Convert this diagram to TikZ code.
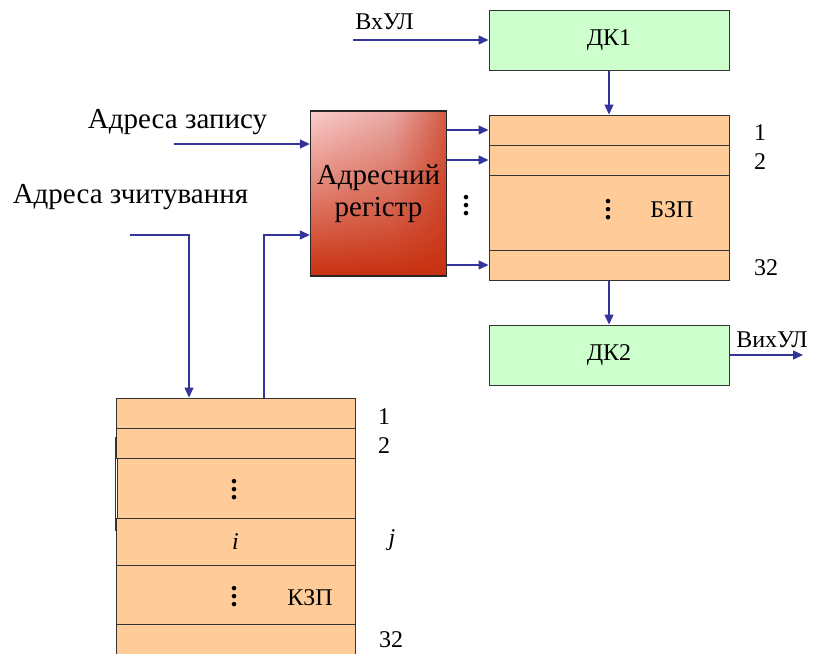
\documentclass[tikz,border=0pt]{standalone}
\usepackage{fontspec}
\setmainfont{Liberation Serif}
\usepackage{tikz}
\usepackage{xcolor}
\usetikzlibrary{arrows.meta, positioning, calc, fadings}

\definecolor{cellfill}{HTML}{FFCC99}
\definecolor{dcfill}{HTML}{CCFFCC}
\definecolor{wireblue}{HTML}{333399}
\definecolor{regpink}{HTML}{FCCFCF}
\definecolor{regmid}{HTML}{E8A8A4}
\definecolor{regred}{HTML}{C8300F}
\pgfdeclarehorizontalshading{regshade}{100bp}{color(0bp)=(regpink); color(24bp)=(regpink); color(55bp)=(regmid); color(86bp)=(regred); color(100bp)=(regred)}
\tikzfading[name=regfade, top color=transparent!100, middle color=transparent!100, bottom color=transparent!0]

\begin{document}
\begin{tikzpicture}[x=0.5pt, y=-0.5pt,
    cell/.style={draw=black!80, line width=0.5pt, fill=cellfill, minimum width=120pt, inner sep=0pt, font=\fontsize{12}{14}\selectfont},
    deccell/.style={draw=black!80, line width=0.5pt, fill=dcfill, minimum width=120pt, minimum height=30pt, font=\fontsize{12}{14}\selectfont},
    regbox/.style={shading=regshade, postaction={fill=regred, path fading=regfade}, postaction={draw=black!85, line width=0.6pt}, minimum width=67.5pt, minimum height=82.5pt, align=center, font=\fontsize{14.5}{16}\selectfont},
    wire/.style={draw=wireblue, line width=0.65pt, -{Triangle[length=5pt,width=4.5pt]}},
    lbl/.style={font=\fontsize{14.5}{16}\selectfont, inner sep=0pt},
    num/.style={font=\fontsize{12}{14}\selectfont, inner sep=0pt},
    vdotsmark/.style={font=\bfseries\fontsize{14}{16}\selectfont, inner sep=0pt}]
    \useasboundingbox (0,0) rectangle (813,653);

    % =========================================================
    % DECODERS AND DATA BUFFER (BZP)
    % =========================================================
    \node[deccell] (dk1) at (609,40) {ДК1};
    \node[cell, minimum height=15pt] (bzp1) at (609,130) {};
    \node[cell, minimum height=15pt] (bzp2) at (609,160) {};
    \node[cell, minimum height=37.5pt] (bzpm) at (609,212.5) {};
    \node[cell, minimum height=15pt] (bzp32) at (609,265) {};
    \node[vdotsmark] (bzpdots) at (608,204) {\vdots};
    \node[num] (bzpname) at (672,210) {БЗП};
    \node[deccell] (dk2) at (609,355) {ДК2};

    \node[num] (bn1) at (760,133) {1};
    \node[num] (bn2) at (760,162) {2};
    \node[num] (bn32) at (766,268) {32};

    % =========================================================
    % ADDRESS REGISTER
    % =========================================================
    \node[regbox] (reg) at (378.5,193.5) {Адресний\\регістр};
    \node[vdotsmark] (regdots) at (466,200) {\vdots};

    % =========================================================
    % CONTROL MEMORY (KZP)
    % =========================================================
    \node[cell, minimum width=119.5pt, minimum height=15pt] (kzp1) at (235.5,413) {};
    \node[cell, minimum width=119.5pt, minimum height=15pt] (kzp2) at (235.5,443) {};
    \node[cell, minimum width=119pt, minimum height=30pt] (kzp3) at (236,488) {};
    \node[cell, minimum width=119.5pt, minimum height=23.5pt] (kzpi) at (235.5,541.5) {\itshape i};
    \node[cell, minimum width=119.5pt, minimum height=29.5pt] (kzp5) at (235.5,594.5) {};
    \node[cell, minimum width=119.5pt, minimum height=29.5pt] (kzp32) at (235.5,653.5) {};
    \draw[black!80, line width=0.5pt] (115,437) -- (115,531);
    \node[vdotsmark] (kzpdots1) at (234,484) {\vdots};
    \node[vdotsmark] (kzpdots2) at (234,591) {\vdots};
    \node[num] (kzpname) at (310,598) {КЗП};

    \node[num] (kn1) at (384,417) {1};
    \node[num] (kn2) at (384,446) {2};
    \node[num] (knj) at (392,540) {\itshape j};
    \node[num] (kn32) at (391,640) {32};

    % =========================================================
    % SIGNAL LABELS AND CONNECTORS
    % =========================================================
    \node[num] (vxullbl) at (384.5,22) {ВхУЛ};
    \node[num] (vyxullbl) at (772,340) {ВихУЛ};
    \node[lbl] (wrlbl) at (177.5,122) {Адреса запису};
    \node[lbl] (rdlbl) at (130.5,197) {Адреса зчитування};

    \coordinate (vxul) at (353,40);
    \coordinate (vyxul) at (803,355);
    \coordinate (wrin) at (174,144);
    \coordinate (rdin) at (130,235);
    \coordinate (rdtap) at (189,235);
    \coordinate (rdret) at (264,235);

    \draw[wire] (vxul) -- (dk1.west);
    \draw[wire] (dk1.south) -- (bzp1.north);
    \foreach \r in {bzp1,bzp2,bzp32}
        \draw[wire] (reg.east |- \r.west) -- (\r.west);
    \draw[wire] (bzp32.south) -- (dk2.north);
    \draw[wire] (dk2.east) -- (vyxul);
    \draw[wire] (wrin) -- (reg.west |- wrin);
    \draw[wire] (rdin) -| (kzp1.north -| rdtap);
    \draw[wire] (kzp1.north -| rdret) |- (reg.west |- rdret);
\end{tikzpicture}
\end{document}
